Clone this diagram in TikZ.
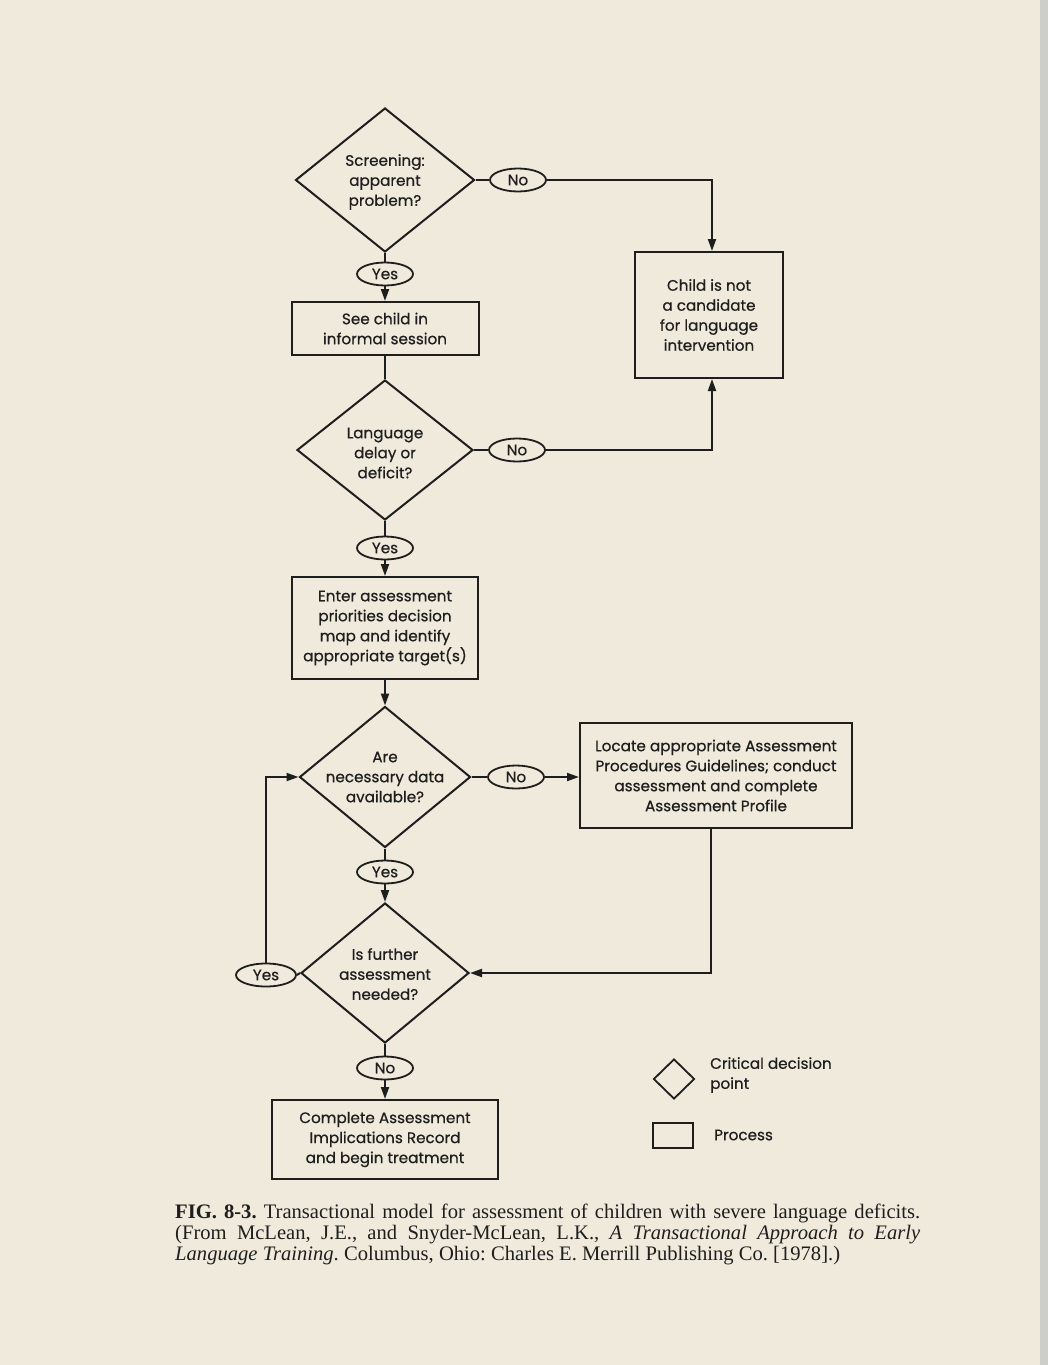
\documentclass[tikz,border=0pt]{standalone}
\usepackage{fontspec}
\setmainfont{Liberation Serif}
\newfontfamily\diagfont[FakeBold=0.6]{Poppins}
\usetikzlibrary{shapes.geometric,arrows.meta}
\definecolor{paper}{RGB}{239,234,220}
\definecolor{ink}{RGB}{30,30,30}
\definecolor{scanbg}{RGB}{205,205,202}
\begin{document}
\begin{tikzpicture}[x=1pt,y=-1pt,
  every node/.style={font=\diagfont\fontsize{15.2}{20}\selectfont, text=ink},
  dec/.style={draw=ink, line width=2pt, shape=diamond, inner sep=0pt},
  proc/.style={draw=ink, line width=2pt, rectangle, inner sep=0pt, align=center},
  oval/.style={draw=ink, line width=1.8pt, ellipse, inner sep=0pt, minimum width=56pt, minimum height=23pt},
  conn/.style={draw=ink, line width=2pt},
  arr/.style={conn, -{Triangle[length=12pt,width=8pt]}},
  inlbl/.style={align=center}
]
\fill[paper] (0,0) rectangle (1048,1365);
\fill[scanbg] (1040,0) rectangle (1048,1365);
\useasboundingbox (0,0) rectangle (1048,1365);

% decisions
\node[dec, minimum width=179pt, minimum height=144pt,
  label={[inlbl, yshift=-2pt]center:Screening:\\apparent\\problem?}] (d1) at (385,180) {};
\node[dec, minimum width=176pt, minimum height=140pt,
  label={[inlbl, yshift=-3pt]center:Language\\delay or\\deficit?}] (d2) at (385,450) {};
\node[dec, minimum width=171pt, minimum height=141pt,
  label={[inlbl]center:Are\\necessary data\\available?}] (d3) at (385,777) {};
\node[dec, minimum width=168pt, minimum height=140pt,
  label={[inlbl, yshift=-1pt]center:Is further\\assessment\\needed?}] (d4) at (385,973) {};

% processes
\node[proc, minimum width=187pt, minimum height=53pt] (see) at (385,328.5) {See child in\\informal session};
\node[proc, minimum width=148pt, minimum height=126pt] (child) at (709,315) {Child is not\\a candidate\\for language\\intervention};
\node[proc, minimum width=186pt, minimum height=102pt] (enter) at (385,628) {Enter assessment\\priorities decision\\map and identify\\appropriate target(s)};
\node[proc, minimum width=272pt, minimum height=105pt] (locate) at (716,775.5) {Locate appropriate Assessment\\Procedures Guidelines; conduct\\assessment and complete\\Assessment Profile};
\node[proc, minimum width=226pt, minimum height=79pt] (final) at (385,1139.5) {Complete Assessment\\Implications Record\\and begin treatment};

% ovals
\node[oval] (n1) at (518,180) {No};
\node[oval] (y1) at (385,274) {Yes};
\node[oval] (n2) at (517,450) {No};
\node[oval] (y2) at (385,548) {Yes};
\node[oval] (n3) at (516,777) {No};
\node[oval] (y3) at (385,872) {Yes};
\node[oval, minimum width=60pt] (yl) at (266,975) {Yes};
\node[oval] (n4) at (385,1068) {No};

% connectors
\coordinate (c1) at (712,180);
\coordinate (c2) at (712,450);
\coordinate (c3) at (711,973);
\coordinate (c4) at (266,777);
\draw[conn] (d1.south) -- (y1.north);
\draw[arr] (y1.south) -- (see.north);
\draw[conn] (d1.east) -- (n1.west);
\draw[arr] (n1.east) -- (c1) -- (c1 |- child.north);
\draw[conn] (see.south) -- (d2.north);
\draw[conn] (d2.east) -- (n2.west);
\draw[arr] (n2.east) -- (c2) -- (c2 |- child.south);
\draw[conn] (d2.south) -- (y2.north);
\draw[arr] (y2.south) -- (enter.north);
\draw[arr] (enter.south) -- (d3.north);
\draw[conn] (d3.east) -- (n3.west);
\draw[arr] (n3.east) -- (n3.east -| locate.west);
\draw[conn] (d3.south) -- (y3.north);
\draw[arr] (y3.south) -- (d4.north);
\draw[arr] (c3 |- locate.south) -- (c3) -- (d4.east);
\draw[conn] (d4.west) -- (yl.east);
\draw[arr] (yl.north) -- (c4) -- (d3.west);
\draw[conn] (d4.south) -- (n4.north);
\draw[arr] (n4.south) -- (final.north);

% legend
\node[dec, line width=1.8pt, minimum width=41pt, minimum height=40pt] (ld) at (674,1079) {};
\node[anchor=west, align=left, inner sep=0pt] (ldt) at (710,1075) {Critical decision\\point};
\node[proc, line width=1.8pt, minimum width=40pt, minimum height=25pt] (lp) at (673,1135.5) {};
\node[anchor=west, inner sep=0pt] (lpt) at (714,1135) {Process};

% caption
\node[anchor=north west, inner sep=0pt, text width=745pt, align=justify,
  font=\rmfamily\fontsize{20.6}{20.8}\selectfont\frenchspacing] (cap) at (175,1204)
  {\textbf{FIG. 8-3.} Transactional model for assessment of children with severe language deficits.\linebreak
  (From McLean, J.E., and Snyder-McLean, L.K., \textit{A Transactional Approach to Early}\linebreak
  \textit{Language Training}. Columbus, Ohio: Charles E. Merrill Publishing Co. [1978].)};
\end{tikzpicture}
\end{document}
